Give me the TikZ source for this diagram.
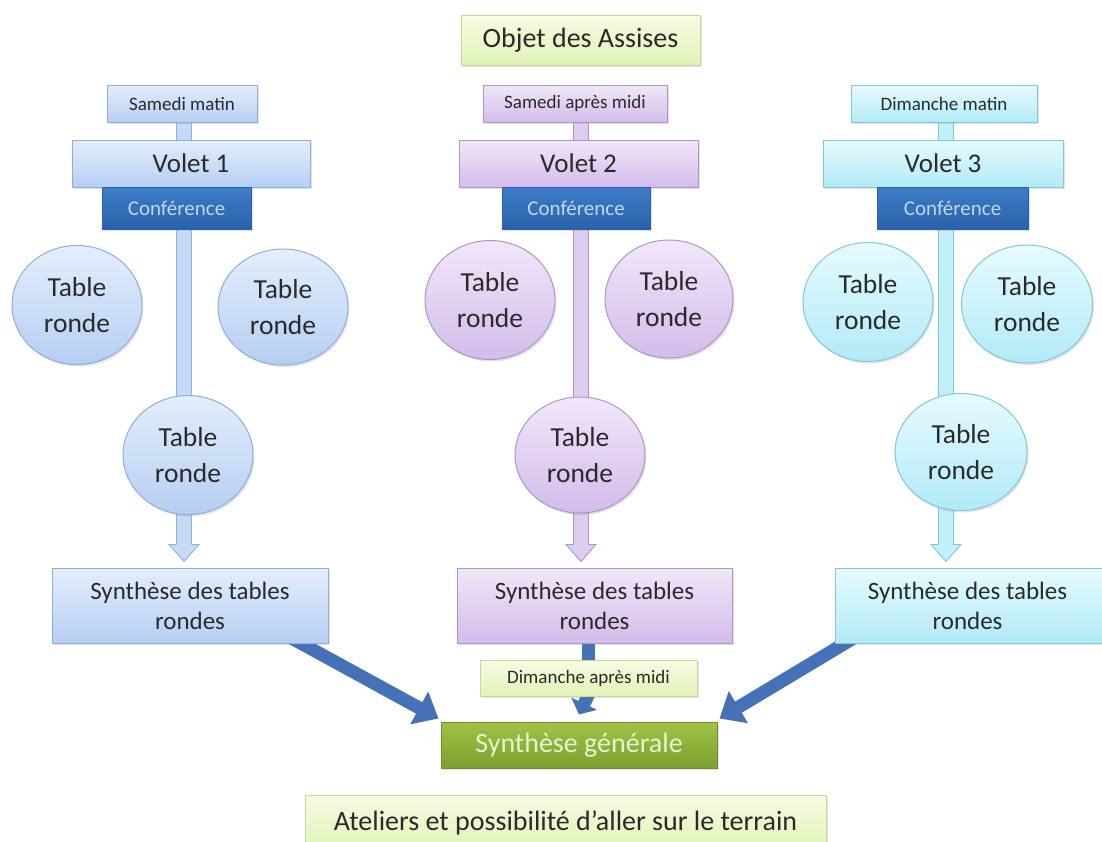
\documentclass[tikz,border=0pt]{standalone}
\usepackage{fontspec}
\setmainfont{Carlito}
\usetikzlibrary{arrows.meta,calc,shapes.geometric,shadows,backgrounds}

\definecolor{txt}{HTML}{2A2A2A}
\definecolor{bTop}{HTML}{E4EEFC}
\definecolor{bBot}{HTML}{B6CEF2}
\definecolor{bBrd}{HTML}{8EAEDD}
\definecolor{bStem}{HTML}{C6DAF6}
\definecolor{pTop}{HTML}{F1E7F9}
\definecolor{pBot}{HTML}{D3BCEA}
\definecolor{pBrd}{HTML}{AE95C8}
\definecolor{pStem}{HTML}{DECDF0}
\definecolor{cTop}{HTML}{E6FBFE}
\definecolor{cBot}{HTML}{B2EAF7}
\definecolor{cBrd}{HTML}{82C6D8}
\definecolor{cStem}{HTML}{C2F0FA}
\definecolor{gTop}{HTML}{F6FCE4}
\definecolor{gBot}{HTML}{E1F2B6}
\definecolor{gBrd}{HTML}{C4DA98}
\definecolor{confTop}{HTML}{3E7DC7}
\definecolor{confBot}{HTML}{2A61AA}
\definecolor{confTxt}{HTML}{BFD7F3}
\definecolor{sgTop}{HTML}{A0C346}
\definecolor{sgBot}{HTML}{7C9F30}
\definecolor{sgBrd}{HTML}{6E8F2C}
\definecolor{sgTxt}{HTML}{E6F3CE}
\definecolor{darkarrow}{HTML}{4572B7}

\newcommand\stemarrow[4]{%
  \draw[fill=#3, draw=#4, line width=0.9pt, line join=miter]
    ($(#1)+(-7.5,0)$) -- ($(#2)+(-7.5,17)$) -- ($(#2)+(-15,17)$) -- (#2)
    -- ($(#2)+(15,17)$) -- ($(#2)+(7.5,17)$) -- ($(#1)+(7.5,0)$) -- cycle;}

\tikzset{
  base/.style={rectangle, line width=1pt, inner sep=0pt, align=center, text=txt,
    drop shadow={shadow xshift=1.5pt, shadow yshift=-2pt, opacity=0.22}},
  bluebox/.style={base, draw=bBrd, top color=bTop, bottom color=bBot},
  purplebox/.style={base, draw=pBrd, top color=pTop, bottom color=pBot},
  cyanbox/.style={base, draw=cBrd, top color=cTop, bottom color=cBot},
  greenbox/.style={base, draw=gBrd, top color=gTop, bottom color=gBot},
  confbox/.style={base, draw=confBot, top color=confTop, bottom color=confBot,
    text=confTxt, minimum width=149pt, minimum height=42pt, font=\fontsize{21}{24}\selectfont},
  sgbox/.style={base, draw=sgBrd, top color=sgTop, bottom color=sgBot, text=sgTxt,
    minimum width=276pt, minimum height=46pt, font=\fontsize{28}{32}\selectfont},
  daybox/.style={minimum height=37pt, font=\fontsize{19}{22}\selectfont},
  voletbox/.style={minimum width=239pt, minimum height=47pt, font=\fontsize{27}{30}\selectfont},
  synbox/.style={minimum height=75pt, font=\fontsize{25}{30}\selectfont},
  table/.style={ellipse, inner sep=0pt, minimum width=130pt, minimum height=119pt,
    font=\fontsize{27.5}{36}\selectfont},
  bigarrow/.style={draw=darkarrow, line width=13pt,
    -{Triangle[length=22pt,width=36pt]}},
  midbar/.style={draw=darkarrow, line width=13pt},
}

\begin{document}
\begin{tikzpicture}[x=1pt,y=1pt]
\clip (0,0) rectangle (1102,-841);

% top label
\node[greenbox, minimum width=239pt, minimum height=50pt, font=\fontsize{28}{32}\selectfont]
  (obj) at (580.5,-40) {Objet des Assises};

% day boxes
\node[bluebox, daybox, minimum width=150pt] (d1) at (182,-103.5) {Samedi matin};
\node[purplebox, daybox, minimum width=184pt] (d2) at (575,-103.5) {Samedi après midi};
\node[cyanbox, daybox, minimum width=186pt] (d3) at (944,-103.5) {Dimanche matin};

% volets
\node[bluebox, voletbox, minimum width=238pt] (v1) at (191,-163.5) {Volet 1};
\node[purplebox, voletbox] (v2) at (578.5,-163.5) {Volet 2};
\node[cyanbox, voletbox, minimum width=240pt] (v3) at (943,-163.5) {Volet 3};

% conferences
\node[confbox] (cf1) at (176.5,-208) {Conférence};
\node[confbox, minimum width=148pt] (cf2) at (576,-208) {Conférence};
\node[confbox, minimum width=151pt] (cf3) at (952.5,-208) {Conférence};

% round tables
\node[bluebox, table] (t1a) at (77,-305) {Table\\ronde};
\node[bluebox, table, minimum height=116pt] (t1b) at (283,-307) {Table\\ronde};
\node[bluebox, table] (t1c) at (188,-455) {Table\\ronde};
\node[purplebox, table] (t2a) at (490,-300) {Table\\ronde};
\node[purplebox, table, minimum width=128pt, minimum height=118pt] (t2b) at (669,-299) {Table\\ronde};
\node[purplebox, table, minimum height=116pt] (t2c) at (580,-455) {Table\\ronde};
\node[cyanbox, table] (t3a) at (868,-302) {Table\\ronde};
\node[cyanbox, table, minimum width=131pt, minimum height=118pt] (t3b) at (1027,-304) {Table\\ronde};
\node[cyanbox, table, minimum width=132pt, minimum height=117pt] (t3c) at (961,-452) {Table\\ronde};

% synthesis boxes
\node[bluebox, synbox, minimum width=276pt] (syn1) at (190,-605.5) {Synthèse des tables\\rondes};
\node[purplebox, synbox, minimum width=275pt] (syn2) at (594.5,-605.5) {Synthèse des tables\\rondes};
\node[cyanbox, synbox, minimum width=269pt] (syn3) at (969.5,-605.5) {\hspace*{-4pt}Synthèse des tables\\\hspace*{-4pt}rondes};

% dimanche apres midi, general synthesis
\node[greenbox, daybox, minimum width=217pt, minimum height=36pt] (dam) at (588.5,-678) {Dimanche après midi};
\node[sgbox] (sg) at (579,-745) {Synthèse générale};

% workshops
\node[greenbox, minimum width=521pt, minimum height=55pt, font=\fontsize{28}{32}\selectfont]
  (atel) at (565.5,-822.5) {Ateliers et possibilité d’aller sur le terrain};

% connectors behind the shapes
\begin{scope}[on background layer]
  \fill[white] (0,0) rectangle (1102,-841);
  \path ($(d2.south)+(6,0)$) coordinate (d2s) ($(d3.south)+(2,0)$) coordinate (d3s)
        ($(d1.south)+(2,0)$) coordinate (d1s);
  \stemarrow{d1s}{$(d1s |- syn1.north)+(0,6)$}{bStem}{bBrd}
  \stemarrow{d2s}{$(d2s |- syn2.north)+(0,6)$}{pStem}{pBrd}
  \stemarrow{d3s}{$(d3s |- syn3.north)+(0,6)$}{cStem}{cBrd}
  \draw[bigarrow] ($(syn1.south east)+(-38,6)$) -- ($(sg.north west)+(-2,3)$);
  \draw[bigarrow] ($(syn3.south west)+(20,6)$) -- ($(sg.north east)+(2,3)$);
  \draw[midbar] ($(dam.north |- syn2.south)+(0,2)$) -- ($(dam.north)+(0,-2)$);
  \draw[draw=darkarrow, line width=13pt, -{Triangle[length=12pt,width=28pt]}]
    ($(dam.south)+(0,2)$) -- ($(sg.north)+(0,7)$);
\end{scope}
\end{tikzpicture}
\end{document}
